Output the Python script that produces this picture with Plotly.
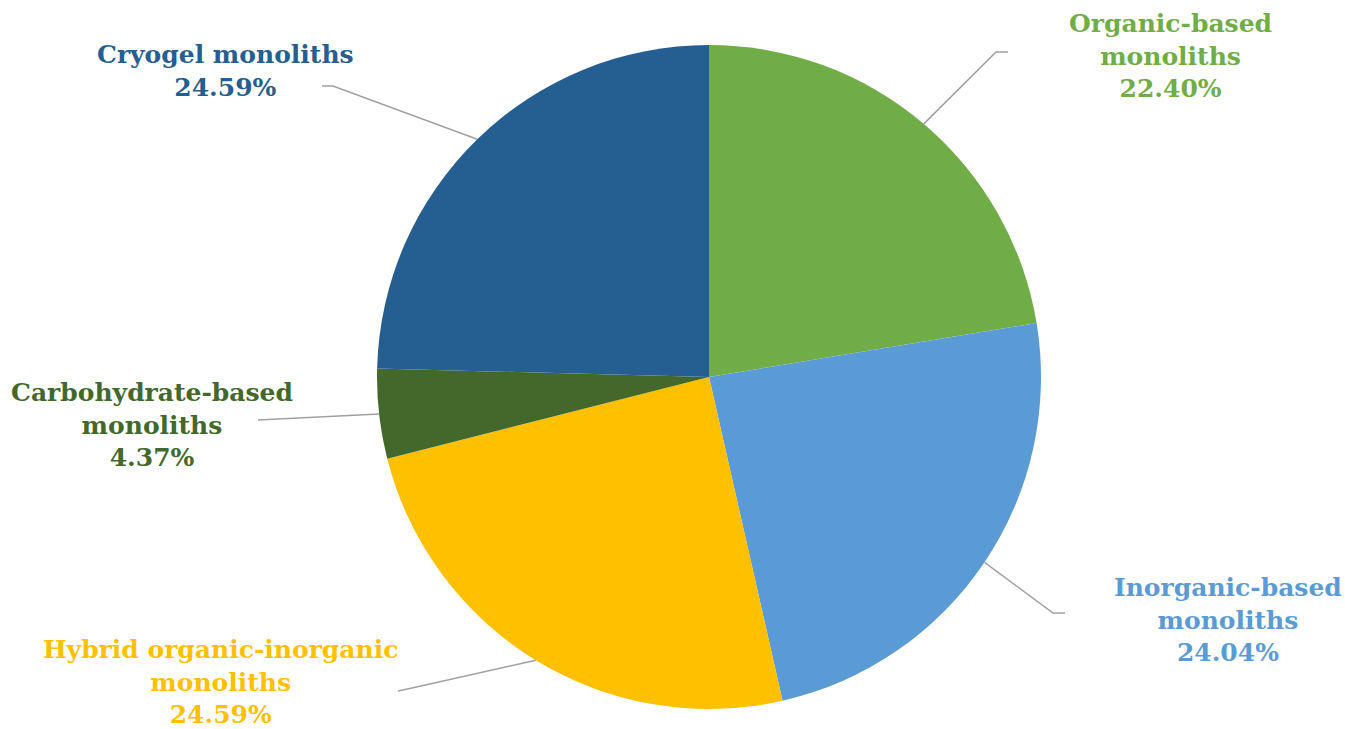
import math
import plotly.graph_objects as go

categories = ["Organic-based monoliths", "Inorganic-based monoliths",
              "Hybrid organic-inorganic monoliths", "Carbohydrate-based monoliths",
              "Cryogel monoliths"]
values = [22.40, 24.04, 24.59, 4.37, 24.59]
label_html = ["Organic-based<br>monoliths<br>22.40%",
              "Inorganic-based<br>monoliths<br>24.04%",
              "Hybrid organic-inorganic<br>monoliths<br>24.59%",
              "Carbohydrate-based<br>monoliths<br>4.37%",
              "Cryogel monoliths<br>24.59%"]
colors = ["#70AD47", "#5B9BD5", "#FFC000", "#43682B", "#255E91"]
text_colors = ["#70AD47", "#5B9BD5", "#FFC000", "#43682B", "#255E91"]

W, H = 1345, 729
CX, CY, R = 709, 377, 332

# label centres (px) and leader-line outer points (px) - layout only
label_pos = [(1170, 56), (1228, 620), (220, 682), (152, 425), (225, 71)]
leader_outer = [[(1008, 52), (996, 52)],
                [(1065, 613), (1053, 613)],
                [(398, 691), (412, 688)],
                [(258, 420)],
                [(322, 86), (333, 86)]]


def px(x, y):
    return x / W, 1 - y / H


fig = go.Figure(go.Pie(
    labels=categories, values=values, sort=False, direction="clockwise",
    rotation=0, marker=dict(colors=colors, line=dict(width=0)),
    textinfo="none", hoverinfo="label+percent", showlegend=False,
    domain=dict(x=[(CX - R) / W, (CX + R) / W], y=[1 - (CY + R) / H, 1 - (CY - R) / H]),
))

total = sum(values)
cum = 0
shapes = []
annotations = []
for i, v in enumerate(values):
    mid = (cum + v / 2) / total * 2 * math.pi
    cum += v
    ex = CX + R * math.sin(mid)
    ey = CY - R * math.cos(mid)
    pts = leader_outer[i] + [(ex, ey)]
    path = "M " + " L ".join(f"{px(a, b)[0]:.5f},{px(a, b)[1]:.5f}" for a, b in pts)
    shapes.append(dict(type="path", xref="paper", yref="paper", path=path,
                       line=dict(color="#A0A0A0", width=1.5)))
    lx, ly = px(*label_pos[i])
    annotations.append(dict(x=lx, y=ly, xref="paper", yref="paper", text=f"<b>{label_html[i]}</b>",
                            showarrow=False, xanchor="center", yanchor="middle", align="center",
                            font=dict(family="DejaVu Serif", size=25, color=text_colors[i])))

fig.update_layout(width=W, height=H, margin=dict(l=0, r=0, t=0, b=0),
                  paper_bgcolor="white", plot_bgcolor="white",
                  shapes=shapes, annotations=annotations)
fig.write_html("out.html")
